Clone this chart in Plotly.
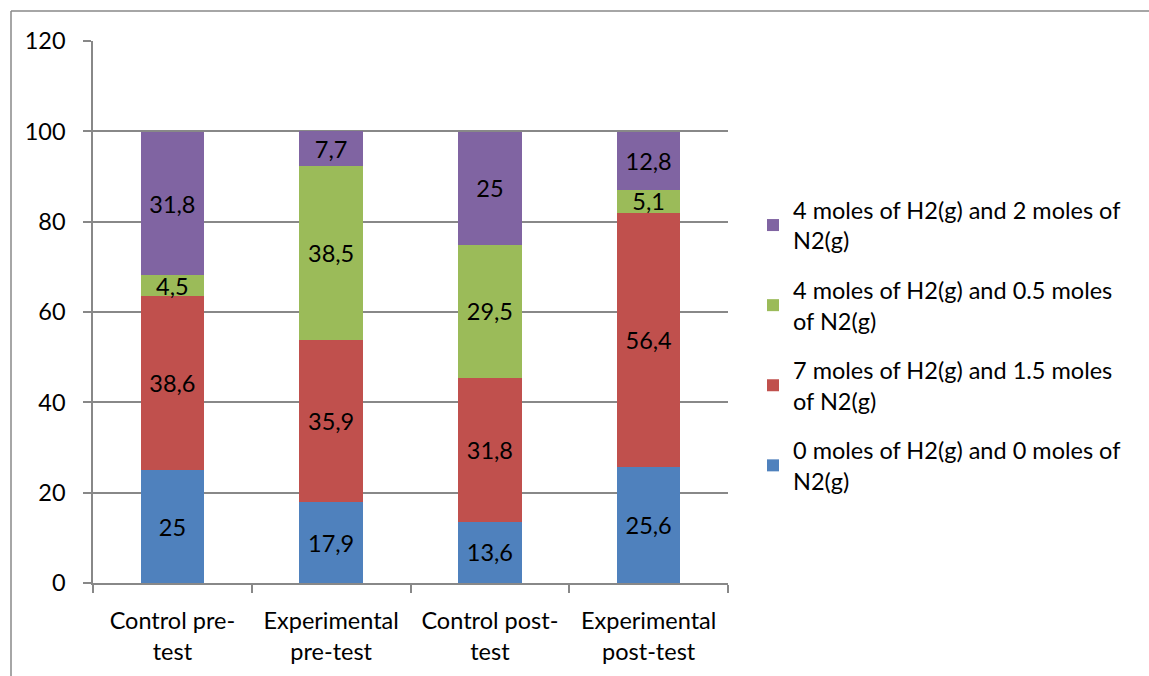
import plotly.graph_objects as go

categories = ["Control pre-<br>test", "Experimental<br>pre-test", "Control post-<br>test", "Experimental<br>post-test"]
series_names = [
    "0 moles of H2(g) and 0 moles of<br>N2(g)",
    "7 moles of H2(g) and 1.5 moles<br>of N2(g)",
    "4 moles of H2(g) and 0.5 moles<br>of N2(g)",
    "4 moles of H2(g) and 2 moles of<br>N2(g)",
]
s0 = [25, 17.9, 13.6, 25.6]
s1 = [38.6, 35.9, 31.8, 56.4]
s2 = [4.5, 38.5, 29.5, 5.1]
s3 = [31.8, 7.7, 25, 12.8]
colors = ["#4F81BD", "#C0504D", "#9BBB59", "#8064A2"]
y_ticks = [0, 20, 40, 60, 80, 100, 120]

FONT = "Lato"
FS = 23.5
W, H = 1149, 676
L, R, T, B = 93, 728, 41, 583

fig = go.Figure()
for i, (name, vals, col) in enumerate(zip(series_names, [s0, s1, s2, s3], colors)):
    fig.add_trace(go.Bar(
        x=categories, y=vals, name=name, marker_color=col, marker_line_width=0,
        text=[str(v).replace(".", ",") for v in vals],
        textposition="inside", insidetextanchor="middle",
        textfont=dict(family=FONT, size=FS, color="black"),
        textangle=0, constraintext="none", legendgroup=name,
        legendrank=1000 - i,
    ))

pw, ph = R - L, B - T
def px2x(p): return (p - L) / pw
def py2y(p): return (B - p) / ph

fig.add_shape(type="line", xref="paper", yref="paper", x0=px2x(11), x1=px2x(1200),
              y0=py2y(11), y1=py2y(11), line=dict(color="#888888", width=1.5))
fig.add_shape(type="line", xref="paper", yref="paper", x0=px2x(11), x1=px2x(11),
              y0=py2y(11), y1=py2y(700), line=dict(color="#888888", width=1.5))

fig.update_layout(
    width=W, height=H,
    margin=dict(l=L, r=W - R, t=T, b=H - B, pad=0),
    barmode="stack", bargap=0.6,
    plot_bgcolor="white", paper_bgcolor="white",
    font=dict(family=FONT, size=FS, color="black"),
    uniformtext=dict(mode=False),
    legend=dict(traceorder="grouped", x=px2x(753), y=py2y(188), xanchor="left", yanchor="top",
                font=dict(family=FONT, size=FS), tracegroupgap=16,
                itemwidth=30, bgcolor="rgba(0,0,0,0)"),
    xaxis=dict(showline=True, linecolor="#888888", linewidth=1.5, ticks="outside",
               tickson="boundaries", ticklen=8, tickcolor="#888888", tickwidth=1.5,
               tickfont=dict(family=FONT, size=FS), showgrid=False, ticklabelstandoff=16),
    yaxis=dict(range=[0, 120], tickvals=y_ticks, showline=True, linecolor="#888888", linewidth=1.5,
               ticks="outside", ticklen=8, tickcolor="#888888", tickwidth=1.5,
               showgrid=True, gridcolor="#888888", gridwidth=1.5, zeroline=False,
               tickfont=dict(family=FONT, size=FS), ticklabelstandoff=13),
)
fig.write_html("out.html")
